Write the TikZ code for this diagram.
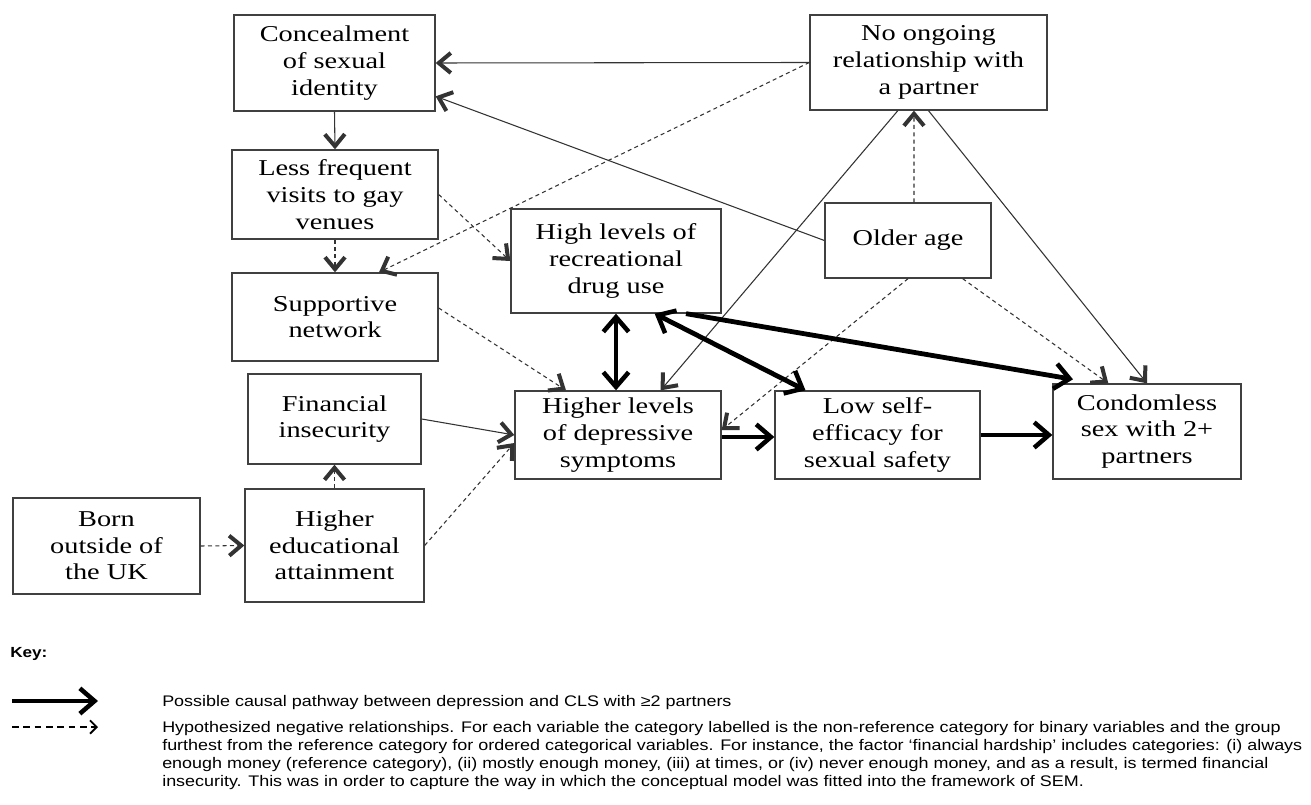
\documentclass[tikz,border=0pt]{standalone}
\usepackage{fontspec}
\setmainfont{Liberation Serif}[FakeStretch=1.25]
\newfontfamily\keyfont{Liberation Sans}[FakeStretch=1.17]
\usetikzlibrary{arrows.meta}

\begin{document}
\begin{tikzpicture}[x=0.75pt,y=-0.75pt]
	\tikzstyle{every node}=[inner sep=0pt, align=center]
	\tikzstyle{box}=[draw=black!75, line width=1pt, font=\fontsize{17pt}{20pt}\selectfont]
	\tikzstyle{thinarr}=[draw=black!80, line width=0.8pt, -{Straight Barb[length=9pt,width=15pt,line width=3pt 0 1]}]
	\tikzstyle{dasharr}=[thinarr, dash pattern=on 3pt off 2.5pt]
	\tikzstyle{thickarr}=[draw=black, line width=3.6pt, -{Straight Barb[length=11pt,width=19pt,line width=3.4pt 0 1]}]
	\tikzstyle{thickboth}=[thickarr, {Straight Barb[length=11pt,width=19pt,line width=3.4pt 0 1]}-{Straight Barb[length=11pt,width=19pt,line width=3.4pt 0 1]}]
	\tikzstyle{keytext}=[anchor=north west, align=left, font=\keyfont\fontsize{11.5pt}{13.5pt}\selectfont]
	\useasboundingbox (0,0) rectangle (1311,805);
	% boxes
	\draw (334.5,63) node (conceal) [box, minimum width=150.75pt, minimum height=72pt] {Concealment\\of sexual\\identity};
	\draw (928.5,62.5) node (noong) [box, minimum width=177.75pt, minimum height=71.25pt] {No ongoing\\relationship with\\a partner};
	\draw (335,194.5) node (lessfreq) [box, minimum width=154.5pt, minimum height=66.75pt] {Less frequent\\visits to gay\\venues};
	\draw (335,317) node (support) [box, minimum width=154.5pt, minimum height=66pt] {Supportive\\network};
	\draw (616,261) node (drug) [box, minimum width=157.5pt, minimum height=78pt] {High levels of\\recreational\\drug use};
	\draw (908,240.5) node (older) [box, minimum width=124.5pt, minimum height=56.25pt] {Older age};
	\draw (334.5,419) node (financ) [box, minimum width=129.75pt, minimum height=67.5pt] {Financial\\insecurity};
	\draw (618,435) node (depress) [box, minimum width=154.5pt, minimum height=66pt] {Higher levels\\of depressive\\symptoms};
	\draw (877.5,435) node (lowself) [box, minimum width=153.75pt, minimum height=66pt] {Low self-\\efficacy for\\sexual safety};
	\draw (1147,431.5) node (condom) [box, minimum width=141pt, minimum height=71.25pt] {Condomless\\sex with 2+\\partners};
	\draw (106.5,546) node (born) [box, minimum width=140.25pt, minimum height=72pt] {Born\\outside of\\the UK};
	\draw (334.5,545.5) node (highedu) [box, minimum width=134.25pt, minimum height=84.75pt] {Higher\\educational\\attainment};
	% solid thin
	\draw [thinarr] (noong.west) -- (conceal.east);
	\draw [thinarr] (older.west) -- ([yshift=-25pt]conceal.east);
	\draw [thinarr] (conceal.south) -- (lessfreq.north);
	\draw [thinarr] ([xshift=-23pt]noong.south) -- ([xshift=32pt]depress.north);
	\draw [thinarr] (noong.south) -- (condom.north);
	\draw [thinarr] (financ.east) -- (depress.west);
	% dashed thin
	\draw [dasharr] (lessfreq.east) -- (drug.west);
	\draw [dasharr] (noong.west) -- ([xshift=33pt]support.north);
	\draw [dasharr] (lessfreq.south) -- (support.north);
	\draw [dasharr] ([yshift=6.75pt]support.east) -- ([xshift=-39pt]depress.north);
	\draw [dasharr] ([xshift=4.5pt]older.north) -- ([xshift=-10.9pt]noong.south);
	\draw [dasharr] (older.south) -- ([yshift=3.75pt]depress.east);
	\draw [dasharr] ([xshift=41pt]older.south) -- ([xshift=-29pt]condom.north);
	\draw [dasharr] (highedu.north) -- (financ.south);
	\draw [dasharr] (born.east) -- (highedu.west);
	\draw [dasharr] (highedu.east) -- ([yshift=-6pt]depress.west);
	% thick
	\draw [thickboth] (drug.south) -- (drug.south |- depress.north);
	\draw [thickboth] ([xshift=29pt]drug.south) -- ([xshift=-54pt]lowself.north);
	\draw [thickarr] ([xshift=52.5pt]drug.south) -- ([xshift=-55.5pt,yshift=3pt]condom.north);
	\draw [thickarr] ([yshift=-1.5pt]depress.east) -- ([yshift=-1.5pt]lowself.west);
	\draw [thickarr] (lowself.east) -- (lowself.east -| condom.west);
	% key
	\draw (10,654) node (keyhead) [anchor=west, font=\keyfont\bfseries\fontsize{11pt}{13.5pt}\selectfont] {Key:};
	\coordinate (k1a) at (12,701);
	\coordinate (k1b) at (98,701);
	\coordinate (k2a) at (12,727);
	\coordinate (k2b) at (98,727);
	\draw [thickarr] (k1a) -- (k1b);
	\draw [draw=black, line width=1pt, dash pattern=on 5pt off 3.5pt, -{Straight Barb[length=5pt,width=10pt,line width=1.4pt 0 1]}] (k2a) -- (k2b);
	\draw (162,695) node (keyone) [keytext] {Possible causal pathway between depression and CLS with ≥2 partners};
	\draw (162,721) node (keytwo) [keytext] {Hypothesized negative relationships. For each variable the category labelled is the non-reference category for binary variables and the group\\
furthest from the reference category for ordered categorical variables. For instance, the factor ‘financial hardship’ includes categories: (i) always\\
enough money (reference category), (ii) mostly enough money, (iii) at times, or (iv) never enough money, and as a result, is termed financial\\
insecurity. This was in order to capture the way in which the conceptual model was fitted into the framework of SEM.};
\end{tikzpicture}
\end{document}
